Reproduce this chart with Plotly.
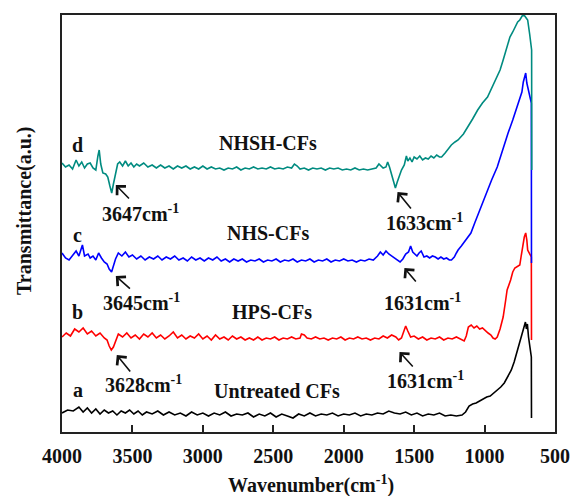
import plotly.graph_objects as go

# ---- data: (wavenumber cm-1, transmittance a.u., offset included) ----
spec_a = [(4000,19),(3960,22),(3920,21),(3880,25),(3850,20),(3820,24),(3790,19),(3760,23),(3730,18),(3700,22),
          (3670,19),(3640,21),(3610,17),(3580,21),(3550,19),(3520,22),(3490,18),(3460,21),(3430,17),(3400,20),
          (3360,18),(3320,21),(3280,17),(3240,20),(3200,17),(3160,19),(3120,16),(3080,20),(3040,17),(3000,19),
          (2960,16),(2920,19),(2880,17),(2840,20),(2800,16),(2760,18),(2720,17),(2680,19),(2640,15),(2600,18),
          (2560,16),(2520,19),(2480,15),(2440,18),(2400,16),(2360,14),(2320,18),(2280,16),(2240,19),(2200,16),
          (2160,18),(2120,17),(2080,19),(2040,16),(2000,18),(1960,17),(1920,19),(1880,16),(1840,18),(1800,17),
          (1760,19),(1720,18),(1680,21),(1640,19),(1600,18),(1560,20),(1520,17),(1480,19),(1440,16),(1400,18),
          (1360,17),(1320,19),(1280,16),(1240,17),(1200,16),(1160,17),(1135,20),(1110,26),(1085,28),(1060,29),
          (1035,31),(1010,33),(985,35),(960,36),(935,39),(910,42),(885,45),(860,49),(835,55),(810,62),
          (790,70),(770,80),(755,87),(740,93),(728,100),(718,104),(710,110),(703,103),(696,108),(688,95),
          (680,87),(673,80),(668,75),(667,14)]

spec_b = [(4000,95),(3970,99),(3940,96),(3910,103),(3880,100),(3850,104),(3820,98),(3790,101),(3760,96),(3730,99),
          (3700,94),(3680,92),(3665,86),(3650,82),(3635,85),(3620,91),(3600,98),(3570,95),(3540,99),(3510,94),
          (3480,97),(3450,93),(3420,98),(3390,95),(3360,99),(3330,94),(3300,97),(3270,93),(3240,96),(3210,100),
          (3180,94),(3150,97),(3120,93),(3090,96),(3060,94),(3030,98),(3000,93),(2970,96),(2940,92),(2910,97),
          (2880,93),(2850,95),(2820,92),(2790,96),(2760,93),(2730,95),(2700,92),(2670,94),(2640,92),(2610,95),
          (2580,92),(2550,94),(2520,93),(2490,95),(2460,92),(2430,94),(2400,93),(2370,95),(2340,93),(2310,94),
          (2300,98),(2280,97),(2260,94),(2230,93),(2200,95),(2170,93),(2140,94),(2110,92),(2080,94),(2050,93),
          (2020,95),(1990,92),(1960,94),(1930,93),(1900,95),(1870,93),(1840,94),(1810,92),(1780,94),(1750,93),
          (1720,96),(1690,94),(1660,97),(1630,95),(1610,92),(1590,94),(1570,102),(1560,106),(1545,101),(1525,95),
          (1500,96),(1470,93),(1440,95),(1410,92),(1380,94),(1350,93),(1320,95),(1290,92),(1260,94),(1230,93),
          (1200,95),(1170,93),(1145,91),(1130,96),(1115,105),(1095,107),(1075,104),(1055,106),(1035,103),(1015,104),
          (995,101),(975,99),(955,97),(940,94),(925,93),(910,95),(890,103),(868,115),(850,132),(840,142),
          (815,152),(800,160),(785,164),(765,166),(750,167),(740,176),(729,187),(718,195),(708,199),(700,192),
          (694,182),(684,179),(674,177),(668,175),(667,92)]

spec_c = [(4000,179),(3975,174),(3950,172),(3925,177),(3900,181),(3880,176),(3865,184),(3855,187),(3840,176),(3815,178),
          (3800,174),(3780,176),(3760,172),(3740,179),(3720,174),(3700,170),(3680,168),(3665,163),(3648,160),(3635,166),
          (3620,173),(3600,179),(3575,176),(3550,180),(3525,175),(3500,177),(3470,173),(3440,176),(3410,172),(3380,175),
          (3350,173),(3320,176),(3290,172),(3260,175),(3230,173),(3200,176),(3170,172),(3140,174),(3110,171),(3080,175),
          (3050,172),(3020,174),(2990,171),(2960,174),(2930,172),(2900,175),(2870,171),(2840,173),(2810,170),(2780,173),
          (2750,171),(2720,173),(2690,170),(2660,172),(2630,171),(2600,173),(2570,170),(2540,172),(2510,171),(2480,173),
          (2450,170),(2420,172),(2390,171),(2360,173),(2330,170),(2300,172),(2270,171),(2240,173),(2210,170),(2180,172),
          (2150,171),(2120,173),(2090,170),(2060,172),(2030,171),(2000,173),(1970,171),(1940,172),(1910,170),(1880,172),
          (1850,171),(1820,173),(1790,172),(1760,176),(1740,180),(1720,177),(1700,181),(1680,178),(1660,176),(1640,174),
          (1620,172),(1600,170),(1580,173),(1560,178),(1540,180),(1525,186),(1510,180),(1495,178),(1480,176),(1465,179),
          (1450,181),(1430,175),(1410,176),(1390,174),(1370,176),(1350,175),(1330,173),(1310,175),(1290,173),(1270,174),
          (1250,172),(1235,172),(1215,175),(1200,179),(1188,182),(1165,186),(1146,190),(1120,195),(1097,199),(1070,209),
          (1040,220),(1007,232),(980,243),(950,252),(910,265),(870,283),(833,299),(800,312),(771,325),(750,333),
          (735,340),(725,350),(715,356),(708,359),(700,349),(694,345),(684,340),(675,335),(668,329),(667,169)]

spec_d = [(4000,269),(3975,265),(3950,267),(3925,263),(3900,272),(3880,266),(3860,270),(3840,264),(3820,268),(3800,269),
          (3780,264),(3760,262),(3745,276),(3736,282),(3725,268),(3710,259),(3690,258),(3675,255),(3660,246),(3647,239),
          (3635,248),(3620,259),(3605,268),(3590,270),(3570,266),(3550,271),(3530,266),(3510,269),(3490,265),(3470,268),
          (3450,266),(3420,269),(3390,265),(3360,267),(3330,264),(3300,267),(3270,264),(3240,266),(3210,263),(3180,266),
          (3150,264),(3120,266),(3090,263),(3060,265),(3030,263),(3000,266),(2970,263),(2940,265),(2910,263),(2880,264),
          (2850,262),(2820,264),(2790,263),(2760,265),(2730,262),(2700,264),(2670,263),(2640,265),(2610,263),(2580,264),
          (2550,263),(2520,265),(2490,263),(2460,264),(2430,263),(2400,265),(2370,264),(2350,268),(2330,266),(2310,263),
          (2280,264),(2250,262),(2220,264),(2190,263),(2160,264),(2130,262),(2100,264),(2070,263),(2040,264),(2010,262),
          (1980,263),(1950,262),(1920,264),(1890,262),(1860,263),(1830,262),(1800,263),(1770,264),(1750,268),(1735,266),
          (1720,264),(1700,265),(1688,270),(1675,265),(1660,258),(1645,250),(1633,244),(1620,250),(1605,256),(1590,262),
          (1570,267),(1555,276),(1545,271),(1530,274),(1515,270),(1500,275),(1480,273),(1460,276),(1440,272),(1420,274),
          (1400,273),(1380,276),(1360,274),(1340,277),(1320,275),(1305,275),(1280,279),(1260,283),(1236,287),(1210,290),
          (1188,292),(1150,298),(1118,305),(1085,313),(1049,322),(1015,329),(979,335),(945,345),(910,355),(890,362),
          (868,372),(845,383),(820,395),(800,400),(785,405),(765,410),(750,412),(740,414),(729,417),(715,416),
          (704,414),(694,412),(680,398),(670,385),(666,382),(665,262)]

series = [spec_a, spec_b, spec_c, spec_d]
colors = ["#000000", "#ff0000", "#0000ff", "#008b80"]

x_ticks = [4000, 3500, 3000, 2500, 2000, 1500, 1000, 500]

# curve letters / names: (text, wavenumber, level)
letters = [("a", 3889, 42), ("b", 3889, 120), ("c", 3889, 197), ("d", 3889, 287)]
names = [("Untreated CFs", 2472, 41), ("HPS-CFs", 2507, 120), ("NHS-CFs", 2535, 199), ("NHSH-CFs", 2535, 289)]
# peak labels: (label, text x, text y, arrow head x, y, arrow tail x, y)
peaks = [("3647", 3444, 219, 3618, 247, 3514, 232),
         ("3645", 3437, 130, 3618, 156, 3507, 142),
         ("3628", 3424, 48, 3611, 77, 3507, 59),
         ("1633", 1427, 210, 1618, 240, 1514, 222),
         ("1631", 1444, 130, 1569, 164, 1479, 149),
         ("1631", 1417, 52, 1604, 80, 1500, 64)]

FONT = "Liberation Serif"
bold = dict(family=FONT, size=20, color="#111", weight="bold")

fig = go.Figure()
for spec, col in zip(series, colors):
    xs = [p[0] for p in spec]
    ys = [p[1] for p in spec]
    fig.add_trace(go.Scatter(x=xs, y=ys, mode="lines", line=dict(color=col, width=1.6),
                             showlegend=False, hoverinfo="skip"))

ann = []
for t, x, y in letters + names:
    ann.append(dict(x=x, y=y, xref="x", yref="y", text=t, showarrow=False,
                    font=bold, xanchor="center", yanchor="middle"))
for lab, tx, ty, hx, hy, sx, sy in peaks:
    ann.append(dict(x=tx, y=ty, xref="x", yref="y", text=f"{lab}cm<sup>-1</sup>", showarrow=False,
                    font=bold, xanchor="center", yanchor="middle"))
    ann.append(dict(x=hx, y=hy, ax=sx, ay=sy, xref="x", yref="y", axref="x", ayref="y",
                    text="", showarrow=True, arrowhead=4, arrowsize=1.5, arrowwidth=1.6,
                    arrowcolor="#111", standoff=0, startstandoff=0))
ann.append(dict(x=0.506, y=-0.125, xref="paper", yref="paper", text="Wavenumber(cm<sup>-1</sup>)",
                showarrow=False, font=bold, xanchor="center", yanchor="middle"))
ann.append(dict(x=-0.0774, y=0.532, xref="paper", yref="paper", text="Transmittance(a.u.)",
                showarrow=False, font=bold, xanchor="center", yanchor="middle", textangle=-90))

fig.update_layout(
    width=582, height=496,
    margin=dict(l=62, r=16, t=15, b=64),
    paper_bgcolor="white", plot_bgcolor="white",
    annotations=ann,
    xaxis=dict(range=[4000, 500], tickvals=x_ticks, ticktext=[str(v) for v in x_ticks],
               ticks="inside", ticklen=7, tickwidth=1.5, tickcolor="#222",
               showline=True, linewidth=1.5, linecolor="#222", mirror=True,
               showgrid=False, zeroline=False, tickfont=bold, ticklabelstandoff=5),
    yaxis=dict(range=[0, 417], showticklabels=False, ticks="",
               showline=True, linewidth=1.5, linecolor="#222", mirror=True,
               showgrid=False, zeroline=False),
)

fig.write_html("out.html", config={"displayModeBar": False},
               post_script="document.body.style.margin='0';document.body.style.overflow='hidden';")
